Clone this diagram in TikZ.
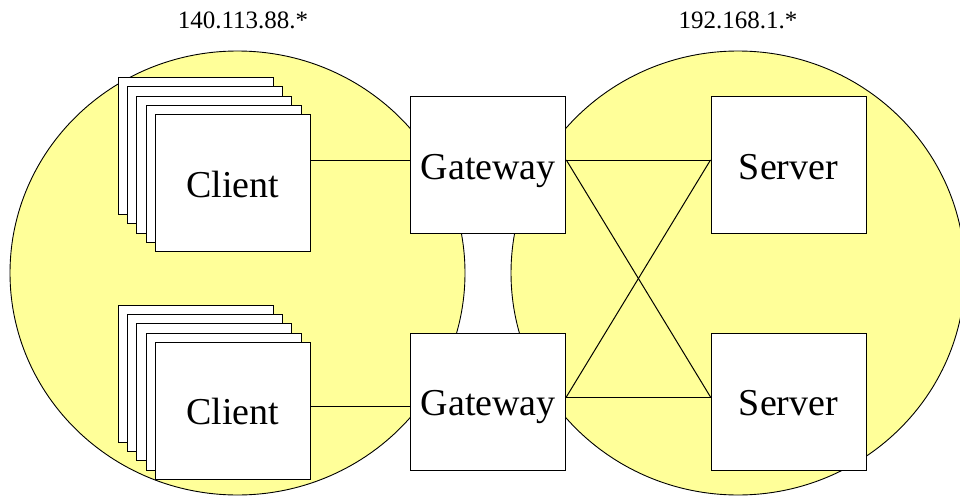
\documentclass[tikz,border=0pt]{standalone}
\usepackage{fontspec}
\setmainfont{Liberation Serif}
\definecolor{zonefill}{HTML}{FFFF99}
\begin{document}
\begin{tikzpicture}[x=1pt,y=-1pt,
  box/.style={draw=black,fill=white,line width=1pt,minimum width=155pt,
    minimum height=137pt,inner sep=0pt,text height=28pt,text depth=0pt,
    font=\fontsize{38}{40}\selectfont},
  zone/.style={draw=black,fill=zonefill,line width=0.9pt},
  link/.style={draw=black,line width=1pt},
  net/.style={font=\fontsize{25}{28}\selectfont,anchor=base,inner sep=0pt}]
\useasboundingbox (0,0) rectangle (960,495);

% the two subnets
\draw[zone] (237.5,273) ellipse [x radius=227.5pt, y radius=222pt];
\draw[zone] (738,273) ellipse [x radius=227pt, y radius=222pt];

\node[net] (netA) at (243,28.3) {140.113.88.*};
\node[net] (netB) at (738,28.3) {192.168.1.*};

% stacks of clients
\foreach \k in {4,3,2,1}{
  \node[box] (clA\k) at ({232.8-9.2*\k},{183-9.2*\k}) {};
  \node[box] (clB\k) at ({232.8-9.2*\k},{410.7-9.2*\k}) {};
}
\node[box] (cl1) at (232.8,183) {Client};
\node[box] (cl2) at (232.8,410.7) {Client};

% gateways and servers
\node[box] (gw1) at (488.3,165) {Gateway};
\node[box] (gw2) at (488.3,401.7) {Gateway};
\node[box] (sv1) at (788.5,165) {Server};
\node[box] (sv2) at (788.5,401.7) {Server};

% attachment points
\coordinate (g1w) at ([yshift=5pt]gw1.west);
\coordinate (g2w) at ([yshift=-4.3pt]gw2.west);
\coordinate (g1e) at ([yshift=5pt]gw1.east);
\coordinate (g2e) at ([yshift=4.7pt]gw2.east);
\coordinate (s1w) at ([yshift=5pt]sv1.west);
\coordinate (s2w) at ([yshift=4.7pt]sv2.west);

\draw[link] (g1w) -- (g1w -| cl1.east);
\draw[link] (g2w) -- (g2w -| cl2.east);
\draw[link] (g1e) -- (s1w);
\draw[link] (g2e) -- (s2w);
\draw[link] (g1e) -- (s2w);
\draw[link] (g2e) -- (s1w);
\end{tikzpicture}
\end{document}
